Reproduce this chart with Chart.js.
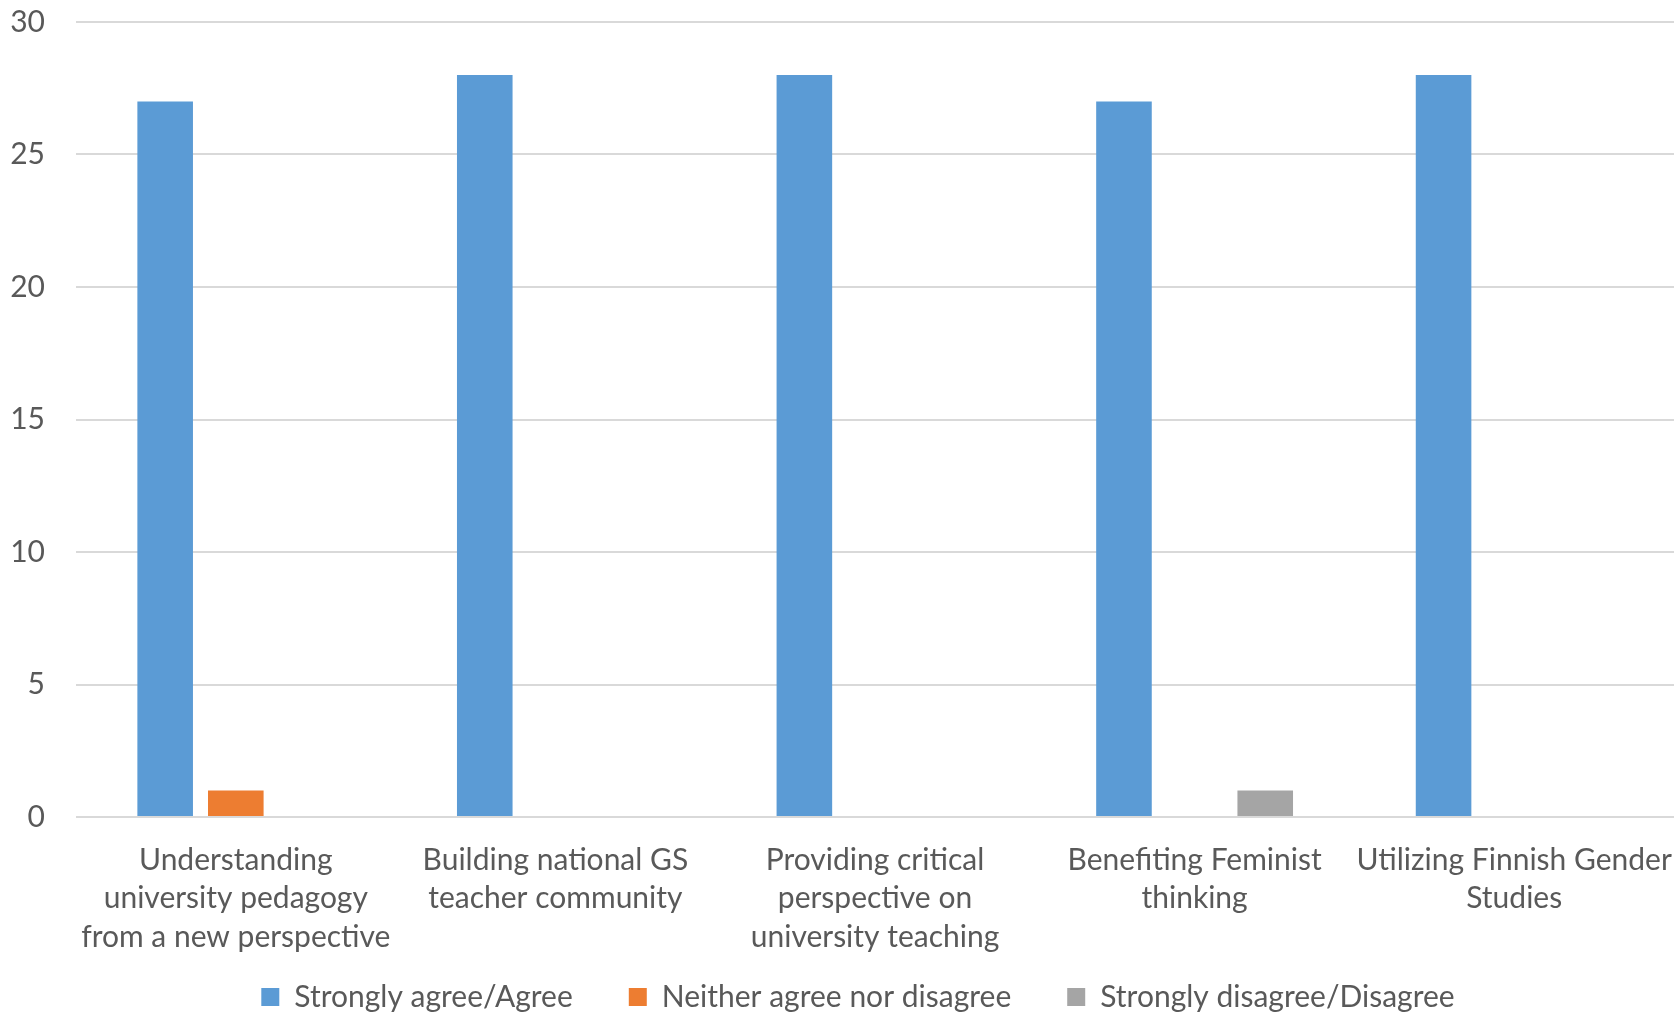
<!DOCTYPE html>
<html>
<head>
<meta charset="utf-8">
<script src="https://cdn.jsdelivr.net/npm/chart.js@4/dist/chart.umd.min.js"></script>
<style>
  html, body { margin: 0; padding: 0; background: #ffffff; }
  #wrap { width: 1677px; height: 1018px; position: relative; }
</style>
</head>
<body>
<div id="wrap"><canvas id="c"></canvas></div>
<script>
const categories = [
  ["Understanding", "university pedagogy", "from a new perspective"],
  ["Building national GS", "teacher community"],
  ["Providing critical", "perspective on", "university teaching"],
  ["Benefiting Feminist", "thinking"],
  ["Utilizing Finnish Gender", "Studies"]
];
const seriesNames = ["Strongly agree/Agree", "Neither agree nor disagree", "Strongly disagree/Disagree"];
const agreeValues = [27, 28, 28, 27, 28];
const neitherValues = [1, 0, 0, 0, 0];
const disagreeValues = [0, 0, 0, 1, 0];
const yTicks = [0, 5, 10, 15, 20, 25, 30];

const colors = ["#5B9BD5", "#ED7D31", "#A5A5A5"];
const textColor = "#595959";
const fontFamily = "Lato, 'Open Sans', sans-serif";
const legendHeight = 92;
const xAxisHeight = 109;
const legendShiftX = 21;

const legendFitPlugin = {
  id: "legendFit",
  beforeUpdate(chart) {
    const lg = chart.legend;
    if (lg && !lg._fitPatched) {
      const origFit = lg.fit.bind(lg);
      lg.fit = function () { origFit(); this.height = legendHeight; };
      const origDraw = lg.draw.bind(lg);
      lg.draw = function () {
        const ctx = this.ctx;
        ctx.save();
        ctx.translate(legendShiftX, 0);
        origDraw();
        ctx.restore();
      };
      lg._fitPatched = true;
    }
  }
};

new Chart(document.getElementById("c"), {
  type: "bar",
  data: {
    labels: categories,
    datasets: [agreeValues, neitherValues, disagreeValues].map((vals, i) => ({
      label: seriesNames[i],
      data: vals,
      backgroundColor: colors[i],
      borderWidth: 0,
      categoryPercentage: 0.663,
      barPercentage: 0.787
    }))
  },
  plugins: [legendFitPlugin],
  options: {
    responsive: true,
    maintainAspectRatio: false,
    animation: false,
    devicePixelRatio: 1,
    layout: { padding: { top: 22, right: 3, left: 0, bottom: 0 } },
    plugins: {
      tooltip: { enabled: false },
      legend: {
        position: "bottom",
        labels: {
          color: textColor,
          font: { family: fontFamily, size: 30 },
          boxWidth: 18,
          boxHeight: 18,
          padding: 56
        }
      }
    },
    scales: {
      x: {
        afterFit: s => {
          s.height = xAxisHeight;
          s.paddingLeft = 0; s.paddingRight = 0; s.paddingTop = 0; s.paddingBottom = 0;
          s._computeLabelArea = () => undefined;
        },
        grid: { display: false },
        border: { display: false },
        ticks: {
          color: textColor,
          font: { family: fontFamily, size: 30, lineHeight: 1.28 },
          maxRotation: 0,
          minRotation: 0,
          autoSkip: false,
          padding: 16
        }
      },
      y: {
        min: 0,
        max: 30,
        afterBuildTicks: s => { s.ticks = yTicks.map(v => ({ value: v })); },
        afterFit: s => { s.width = 76; s.paddingTop = 0; s.paddingBottom = 0; s.paddingLeft = 0; s.paddingRight = 0; },
        grid: { color: "#D9D9D9", lineWidth: 2, drawTicks: false },
        border: { display: false },
        ticks: {
          color: textColor,
          font: { family: fontFamily, size: 30 },
          padding: 31
        }
      }
    }
  }
});
</script>
</body>
</html>
